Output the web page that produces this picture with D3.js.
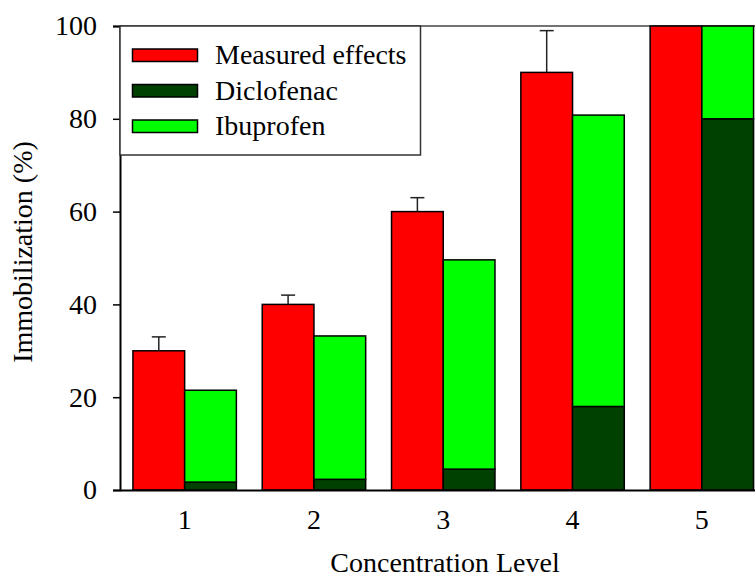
<!DOCTYPE html>
<html>
<head>
<meta charset="utf-8">
<script src="https://cdn.jsdelivr.net/npm/d3@7"></script>
<style>
  html, body { margin: 0; padding: 0; background: #fff; }
  svg { display: block; }
</style>
</head>
<body>
<div id="chart"></div>
<script>
// data
const levels = ['1', '2', '3', '4', '5'];
const measured = [30, 40, 60, 90, 100];
const measuredErr = [3, 2, 3, 9, 0];
const diclofenac = [1.7, 2.3, 4.5, 18, 80];
const ibuprofen = [19.8, 30.9, 45.1, 62.8, 20];
const yTicks = [0, 20, 40, 60, 80, 100];

const width = 755, height = 579;
const font = '"Liberation Serif", "Times New Roman", serif';
const fs = 28;

const svg = d3.select('#chart').append('svg')
  .attr('width', width)
  .attr('height', height);

// the plot runs a bit beyond the right edge of the window
const x = d3.scaleBand().domain(levels).range([120, 766.5])
  .paddingInner(0.2).paddingOuter(0.1);
const y = d3.scaleLinear().domain([0, 100]).range([490, 26]);

const colors = { measured: '#ff0000', diclofenac: '#004000', ibuprofen: '#00ff00' };
const bw = x.bandwidth() / 2;

// top frame line
svg.append('line')
  .attr('x1', 120).attr('x2', 770)
  .attr('y1', y(100)).attr('y2', y(100))
  .attr('stroke', '#444').attr('stroke-width', 1.5);

// measured bars
svg.append('g').selectAll('rect')
  .data(levels)
  .join('rect')
  .attr('x', d => x(d))
  .attr('y', (d, i) => y(measured[i]))
  .attr('width', bw)
  .attr('height', (d, i) => y(0) - y(measured[i]))
  .attr('fill', colors.measured)
  .attr('stroke', '#000').attr('stroke-width', 1.5);

// error bars (upper only)
levels.forEach((d, i) => {
  if (!measuredErr[i]) return;
  const cx = x(d) + bw / 2;
  const g = svg.append('g').attr('stroke', '#222').attr('stroke-width', 1.5);
  g.append('line').attr('x1', cx).attr('x2', cx)
    .attr('y1', y(measured[i])).attr('y2', y(measured[i] + measuredErr[i]));
  g.append('line').attr('x1', cx - 7).attr('x2', cx + 7)
    .attr('y1', y(measured[i] + measuredErr[i])).attr('y2', y(measured[i] + measuredErr[i]));
});

// stacked predicted bars: diclofenac below, ibuprofen on top
const stackRows = levels.map((d, i) => ({ level: d, diclofenac: diclofenac[i], ibuprofen: ibuprofen[i] }));
const stack = d3.stack().keys(['diclofenac', 'ibuprofen'])(stackRows);

svg.append('g').selectAll('g')
  .data(stack)
  .join('g')
  .attr('fill', s => colors[s.key])
  .selectAll('rect')
  .data(s => s)
  .join('rect')
  .attr('x', d => x(d.data.level) + bw)
  .attr('y', d => y(d[1]))
  .attr('width', bw)
  .attr('height', d => y(d[0]) - y(d[1]))
  .attr('stroke', '#000').attr('stroke-width', 1.5);

// y axis
const yAxis = svg.append('g')
  .attr('transform', 'translate(120,0)')
  .call(d3.axisLeft(y).tickValues(yTicks).tickSize(7).tickPadding(16));
yAxis.select('.domain').attr('stroke', '#000').attr('stroke-width', 2);
yAxis.selectAll('.tick line').attr('stroke', '#000').attr('stroke-width', 1.5);
yAxis.selectAll('.tick text')
  .attr('font-family', font).attr('font-size', fs).attr('fill', '#000');

// x axis
const xAxis = svg.append('g')
  .attr('transform', 'translate(0,490)')
  .call(d3.axisBottom(x).tickSize(0).tickPadding(19).tickSizeOuter(0));
xAxis.select('.domain').attr('stroke', '#000').attr('stroke-width', 2);
xAxis.selectAll('.tick text')
  .attr('font-family', font).attr('font-size', fs).attr('fill', '#000');

// axis titles
svg.append('text')
  .attr('x', 445).attr('y', 572)
  .attr('text-anchor', 'middle')
  .attr('font-family', font).attr('font-size', fs)
  .text('Concentration Level');

svg.append('text')
  .attr('transform', 'translate(32,252) rotate(-90)')
  .attr('text-anchor', 'middle')
  .attr('font-family', font).attr('font-size', fs)
  .text('Immobilization (%)');

// legend
const legendItems = [
  { label: 'Measured effects', color: colors.measured },
  { label: 'Diclofenac', color: colors.diclofenac },
  { label: 'Ibuprofen', color: colors.ibuprofen }
];
const legend = svg.append('g');
legend.append('rect')
  .attr('x', 120).attr('y', 26).attr('width', 300.5).attr('height', 129)
  .attr('fill', '#fff').attr('stroke', '#333').attr('stroke-width', 1.5);
legendItems.forEach((it, i) => {
  const ly = 49 + i * 35.5;
  legend.append('rect')
    .attr('x', 132.5).attr('y', ly).attr('width', 65).attr('height', 12.5)
    .attr('fill', it.color).attr('stroke', '#000').attr('stroke-width', 1.5);
  legend.append('text')
    .attr('x', 215).attr('y', ly + 15)
    .attr('font-family', font).attr('font-size', fs)
    .text(it.label);
});
</script>
</body>
</html>
